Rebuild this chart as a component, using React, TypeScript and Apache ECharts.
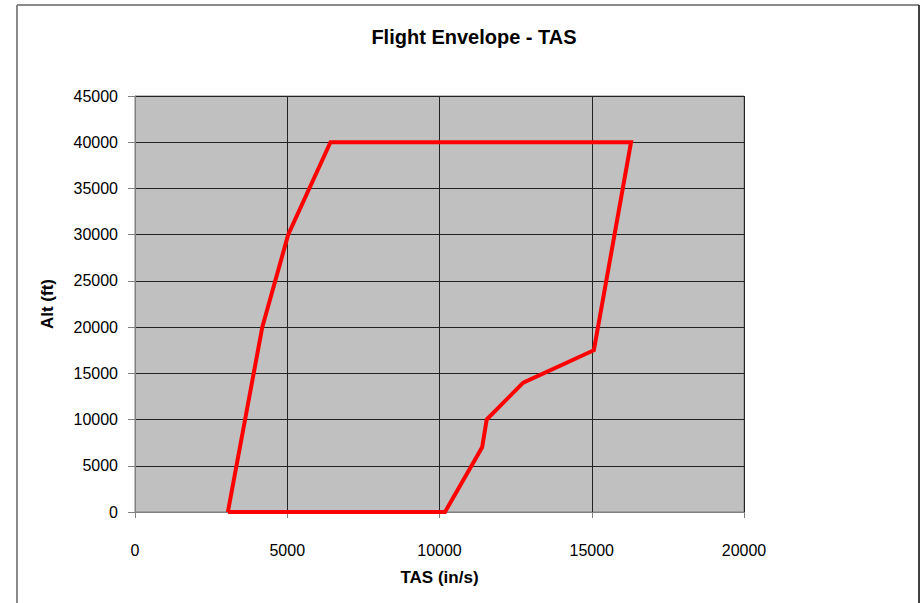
import React, { useEffect, useRef } from "react";
import * as echarts from "echarts";

const titleText = "Flight Envelope - TAS";
const xAxisName = "TAS (in/s)";
const yAxisName = "Alt (ft)";
const tasValues = [3050, 4180, 5030, 6420, 16290, 15070, 12750, 11550, 11400, 10180, 3050];
const altValues = [0, 20000, 30000, 40000, 40000, 17500, 14000, 10000, 7000, 0, 0];
const xTicks = [0, 5000, 10000, 15000, 20000];
const yTicks = [0, 5000, 10000, 15000, 20000, 25000, 30000, 35000, 40000, 45000];

const FONT = "'Liberation Sans', Arial, sans-serif";

export default function App() {
  const ref = useRef<HTMLDivElement>(null);
  useEffect(() => {
    if (!ref.current) return;
    const chart = echarts.init(ref.current, undefined, { renderer: "svg" });
    const data = tasValues.map((x, i) => [x, altValues[i]]);
    chart.setOption({
      animation: false,
      backgroundColor: "#ffffff",
      title: {
        text: titleText,
        left: 469,
        top: 22,
        textAlign: "center",
        textStyle: { fontFamily: FONT, fontSize: 20, fontWeight: "bold", color: "#000" },
      },
      graphic: [
        { type: "line", shape: { x1: 17, y1: 5, x2: 919, y2: 5 }, style: { stroke: "#8a8a8a", lineWidth: 2 } },
        { type: "line", shape: { x1: 17, y1: 5, x2: 17, y2: 610 }, style: { stroke: "#8a8a8a", lineWidth: 2 } },
        { type: "line", shape: { x1: 919, y1: 5, x2: 919, y2: 610 }, style: { stroke: "#404040", lineWidth: 2 } },
      ],
      grid: {
        left: 135,
        right: 178,
        top: 96,
        bottom: 91,
        show: true,
        backgroundColor: "#c0c0c0",
        borderColor: "#808080",
        borderWidth: 1,
      },
      xAxis: {
        type: "value",
        min: xTicks[0],
        max: xTicks[xTicks.length - 1],
        interval: xTicks[1] - xTicks[0],
        name: xAxisName,
        nameLocation: "middle",
        nameGap: 57,
        nameTextStyle: { fontFamily: FONT, fontSize: 17, fontWeight: "bold", color: "#000" },
        axisLine: { show: true, lineStyle: { color: "#808080", width: 1 } },
        axisTick: { show: true, length: 6, lineStyle: { color: "#808080" } },
        axisLabel: {
          margin: 30,
          fontFamily: FONT,
          fontSize: 16,
          color: "#000",
          formatter: (v: number) => String(v),
        },
        splitLine: { show: true, lineStyle: { color: "#222", width: 1 } },
      },
      yAxis: {
        type: "value",
        min: yTicks[0],
        max: yTicks[yTicks.length - 1],
        interval: yTicks[1] - yTicks[0],
        name: yAxisName,
        nameLocation: "middle",
        nameGap: 79,
        nameTextStyle: { fontFamily: FONT, fontSize: 17, fontWeight: "bold", color: "#000" },
        axisLine: { show: true, lineStyle: { color: "#808080", width: 1 } },
        axisTick: { show: true, length: 7, lineStyle: { color: "#808080" } },
        axisLabel: {
          margin: 17,
          fontFamily: FONT,
          fontSize: 16,
          color: "#000",
          formatter: (v: number) => String(v),
        },
        splitLine: { show: true, lineStyle: { color: "#222", width: 1 } },
      },
      series: [
        {
          type: "line",
          data,
          symbol: "none",
          clip: false,
          lineStyle: { color: "#ff0000", width: 4, join: "miter" },
          z: 5,
        },
      ],
    });
    return () => chart.dispose();
  }, []);
  return (
    <div
      ref={ref}
      style={{ position: "fixed", left: 0, top: 0, width: 922, height: 603 }}
    />
  );
}
